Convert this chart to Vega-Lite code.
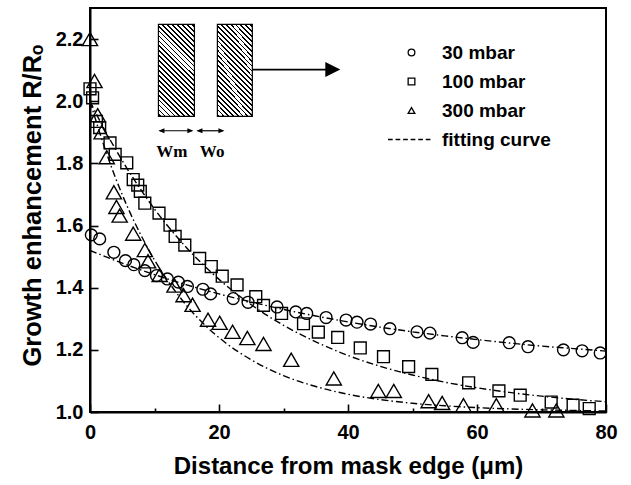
{
  "$schema": "https://vega.github.io/schema/vega-lite/v6.json",
  "width": 516,
  "height": 404,
  "autosize": {"type": "none"},
  "padding": {"left": 90, "top": 8, "right": 25, "bottom": 73},
  "background": "white",
  "config": {
    "view": {"stroke": "black", "strokeWidth": 2},
    "font": "Liberation Sans",
    "axis": {
      "labelFont": "Liberation Sans", "labelFontSize": 20, "labelFontWeight": "bold", "labelColor": "black",
      "titleFont": "Liberation Sans", "titleFontSize": 24, "titleFontWeight": "bold", "titleColor": "black",
      "tickColor": "black", "tickWidth": 1.6, "domainColor": "black", "domainWidth": 2, "grid": false
    },
    "legend": {
      "labelFont": "Liberation Sans", "labelFontSize": 19, "labelFontWeight": "bold", "labelColor": "black"
    }
  },
  "datasets": {
    "points": [
      {"series": "30 mbar", "x": 0.2, "y": 1.57},
      {"series": "30 mbar", "x": 1.5, "y": 1.557},
      {"series": "30 mbar", "x": 3.7, "y": 1.514},
      {"series": "30 mbar", "x": 5.5, "y": 1.487},
      {"series": "30 mbar", "x": 6.8, "y": 1.474},
      {"series": "30 mbar", "x": 8.5, "y": 1.455},
      {"series": "30 mbar", "x": 10.3, "y": 1.439},
      {"series": "30 mbar", "x": 12.0, "y": 1.428},
      {"series": "30 mbar", "x": 13.7, "y": 1.418},
      {"series": "30 mbar", "x": 15.1, "y": 1.404},
      {"series": "30 mbar", "x": 17.5, "y": 1.395},
      {"series": "30 mbar", "x": 18.7, "y": 1.38},
      {"series": "30 mbar", "x": 22.2, "y": 1.365},
      {"series": "30 mbar", "x": 24.5, "y": 1.353},
      {"series": "30 mbar", "x": 29.0, "y": 1.338},
      {"series": "30 mbar", "x": 31.9, "y": 1.322},
      {"series": "30 mbar", "x": 33.6, "y": 1.317},
      {"series": "30 mbar", "x": 36.6, "y": 1.304},
      {"series": "30 mbar", "x": 39.7, "y": 1.296},
      {"series": "30 mbar", "x": 41.4, "y": 1.289},
      {"series": "30 mbar", "x": 43.5, "y": 1.283},
      {"series": "30 mbar", "x": 46.5, "y": 1.268},
      {"series": "30 mbar", "x": 50.7, "y": 1.258},
      {"series": "30 mbar", "x": 52.7, "y": 1.254},
      {"series": "30 mbar", "x": 57.7, "y": 1.239},
      {"series": "30 mbar", "x": 59.4, "y": 1.224},
      {"series": "30 mbar", "x": 65.0, "y": 1.223},
      {"series": "30 mbar", "x": 67.9, "y": 1.21},
      {"series": "30 mbar", "x": 73.4, "y": 1.2},
      {"series": "30 mbar", "x": 76.3, "y": 1.197},
      {"series": "30 mbar", "x": 79.1, "y": 1.19},
      {"series": "100 mbar", "x": 0.0, "y": 2.04},
      {"series": "100 mbar", "x": 0.4, "y": 2.011},
      {"series": "100 mbar", "x": 1.0, "y": 1.935},
      {"series": "100 mbar", "x": 1.5, "y": 1.915},
      {"series": "100 mbar", "x": 3.1, "y": 1.866},
      {"series": "100 mbar", "x": 3.9, "y": 1.829},
      {"series": "100 mbar", "x": 5.7, "y": 1.802},
      {"series": "100 mbar", "x": 6.7, "y": 1.748},
      {"series": "100 mbar", "x": 7.4, "y": 1.73},
      {"series": "100 mbar", "x": 7.8, "y": 1.71},
      {"series": "100 mbar", "x": 8.5, "y": 1.672},
      {"series": "100 mbar", "x": 10.7, "y": 1.64},
      {"series": "100 mbar", "x": 12.4, "y": 1.601},
      {"series": "100 mbar", "x": 13.2, "y": 1.565},
      {"series": "100 mbar", "x": 14.7, "y": 1.537},
      {"series": "100 mbar", "x": 17.0, "y": 1.494},
      {"series": "100 mbar", "x": 18.8, "y": 1.468},
      {"series": "100 mbar", "x": 20.5, "y": 1.437},
      {"series": "100 mbar", "x": 22.8, "y": 1.409},
      {"series": "100 mbar", "x": 25.7, "y": 1.371},
      {"series": "100 mbar", "x": 26.9, "y": 1.343},
      {"series": "100 mbar", "x": 29.7, "y": 1.317},
      {"series": "100 mbar", "x": 33.1, "y": 1.284},
      {"series": "100 mbar", "x": 35.4, "y": 1.257},
      {"series": "100 mbar", "x": 38.4, "y": 1.24},
      {"series": "100 mbar", "x": 41.9, "y": 1.206},
      {"series": "100 mbar", "x": 45.5, "y": 1.178},
      {"series": "100 mbar", "x": 49.4, "y": 1.146},
      {"series": "100 mbar", "x": 53.0, "y": 1.121},
      {"series": "100 mbar", "x": 58.7, "y": 1.094},
      {"series": "100 mbar", "x": 63.4, "y": 1.068},
      {"series": "100 mbar", "x": 66.7, "y": 1.054},
      {"series": "100 mbar", "x": 71.5, "y": 1.032},
      {"series": "100 mbar", "x": 74.9, "y": 1.022},
      {"series": "100 mbar", "x": 77.4, "y": 1.011},
      {"series": "300 mbar", "x": 0.0, "y": 2.2},
      {"series": "300 mbar", "x": 0.7, "y": 2.065},
      {"series": "300 mbar", "x": 1.2, "y": 1.955},
      {"series": "300 mbar", "x": 1.8, "y": 1.9},
      {"series": "300 mbar", "x": 2.6, "y": 1.82},
      {"series": "300 mbar", "x": 3.7, "y": 1.707},
      {"series": "300 mbar", "x": 4.1, "y": 1.66},
      {"series": "300 mbar", "x": 4.6, "y": 1.632},
      {"series": "300 mbar", "x": 6.7, "y": 1.574},
      {"series": "300 mbar", "x": 8.5, "y": 1.521},
      {"series": "300 mbar", "x": 9.0, "y": 1.485},
      {"series": "300 mbar", "x": 10.8, "y": 1.441},
      {"series": "300 mbar", "x": 13.1, "y": 1.407},
      {"series": "300 mbar", "x": 14.5, "y": 1.376},
      {"series": "300 mbar", "x": 15.9, "y": 1.345},
      {"series": "300 mbar", "x": 18.3, "y": 1.297},
      {"series": "300 mbar", "x": 20.1, "y": 1.287},
      {"series": "300 mbar", "x": 22.1, "y": 1.258},
      {"series": "300 mbar", "x": 24.4, "y": 1.238},
      {"series": "300 mbar", "x": 26.9, "y": 1.219},
      {"series": "300 mbar", "x": 31.2, "y": 1.168},
      {"series": "300 mbar", "x": 37.8, "y": 1.108},
      {"series": "300 mbar", "x": 44.7, "y": 1.068},
      {"series": "300 mbar", "x": 47.1, "y": 1.068},
      {"series": "300 mbar", "x": 52.5, "y": 1.035},
      {"series": "300 mbar", "x": 54.6, "y": 1.029},
      {"series": "300 mbar", "x": 57.9, "y": 1.022},
      {"series": "300 mbar", "x": 63.0, "y": 1.022},
      {"series": "300 mbar", "x": 68.6, "y": 1.005},
      {"series": "300 mbar", "x": 72.3, "y": 1.005}
    ],
    "curves": [
      {"curve": "30 mbar", "x": 0, "y": 1.52},
      {"curve": "30 mbar", "x": 5, "y": 1.479},
      {"curve": "30 mbar", "x": 10, "y": 1.442},
      {"curve": "30 mbar", "x": 15, "y": 1.409},
      {"curve": "30 mbar", "x": 20, "y": 1.38},
      {"curve": "30 mbar", "x": 25, "y": 1.354},
      {"curve": "30 mbar", "x": 30, "y": 1.33},
      {"curve": "30 mbar", "x": 35, "y": 1.309},
      {"curve": "30 mbar", "x": 40, "y": 1.29},
      {"curve": "30 mbar", "x": 45, "y": 1.273},
      {"curve": "30 mbar", "x": 50, "y": 1.258},
      {"curve": "30 mbar", "x": 55, "y": 1.245},
      {"curve": "30 mbar", "x": 60, "y": 1.233},
      {"curve": "30 mbar", "x": 65, "y": 1.222},
      {"curve": "30 mbar", "x": 70, "y": 1.212},
      {"curve": "30 mbar", "x": 75, "y": 1.204},
      {"curve": "30 mbar", "x": 80, "y": 1.196},
      {"curve": "100 mbar", "x": 0, "y": 2.0},
      {"curve": "100 mbar", "x": 2, "y": 1.918},
      {"curve": "100 mbar", "x": 4, "y": 1.844},
      {"curve": "100 mbar", "x": 6, "y": 1.775},
      {"curve": "100 mbar", "x": 8, "y": 1.712},
      {"curve": "100 mbar", "x": 10, "y": 1.653},
      {"curve": "100 mbar", "x": 12, "y": 1.6},
      {"curve": "100 mbar", "x": 15, "y": 1.528},
      {"curve": "100 mbar", "x": 18, "y": 1.465},
      {"curve": "100 mbar", "x": 21, "y": 1.409},
      {"curve": "100 mbar", "x": 25, "y": 1.345},
      {"curve": "100 mbar", "x": 30, "y": 1.279},
      {"curve": "100 mbar", "x": 35, "y": 1.226},
      {"curve": "100 mbar", "x": 40, "y": 1.182},
      {"curve": "100 mbar", "x": 45, "y": 1.147},
      {"curve": "100 mbar", "x": 50, "y": 1.119},
      {"curve": "100 mbar", "x": 55, "y": 1.096},
      {"curve": "100 mbar", "x": 60, "y": 1.078},
      {"curve": "100 mbar", "x": 65, "y": 1.063},
      {"curve": "100 mbar", "x": 70, "y": 1.051},
      {"curve": "100 mbar", "x": 75, "y": 1.041},
      {"curve": "100 mbar", "x": 80, "y": 1.033},
      {"curve": "300 mbar", "x": 0, "y": 2.0},
      {"curve": "300 mbar", "x": 2, "y": 1.867},
      {"curve": "300 mbar", "x": 4, "y": 1.751},
      {"curve": "300 mbar", "x": 6, "y": 1.651},
      {"curve": "300 mbar", "x": 8, "y": 1.565},
      {"curve": "300 mbar", "x": 10, "y": 1.489},
      {"curve": "300 mbar", "x": 12, "y": 1.424},
      {"curve": "300 mbar", "x": 15, "y": 1.342},
      {"curve": "300 mbar", "x": 18, "y": 1.276},
      {"curve": "300 mbar", "x": 21, "y": 1.223},
      {"curve": "300 mbar", "x": 25, "y": 1.168},
      {"curve": "300 mbar", "x": 30, "y": 1.117},
      {"curve": "300 mbar", "x": 35, "y": 1.082},
      {"curve": "300 mbar", "x": 40, "y": 1.057},
      {"curve": "300 mbar", "x": 45, "y": 1.04},
      {"curve": "300 mbar", "x": 50, "y": 1.028},
      {"curve": "300 mbar", "x": 55, "y": 1.02},
      {"curve": "300 mbar", "x": 60, "y": 1.014},
      {"curve": "300 mbar", "x": 65, "y": 1.01},
      {"curve": "300 mbar", "x": 70, "y": 1.007},
      {"curve": "300 mbar", "x": 75, "y": 1.005},
      {"curve": "300 mbar", "x": 80, "y": 1.003}
    ]
  },
  "layer": [
    {
      "data": {"name": "curves"},
      "mark": {"type": "line", "color": "black", "strokeWidth": 1.4, "strokeDash": [7, 3, 1.5, 3], "interpolate": "monotone", "clip": true},
      "encoding": {
        "x": {"field": "x", "type": "quantitative",
          "scale": {"domain": [0, 80], "nice": false, "zero": false},
          "axis": {"title": "Distance from mask edge (μm)", "values": [0, 10, 20, 30, 40, 50, 60, 70, 80],
            "labelExpr": "datum.value % 20 === 0 ? datum.label : ''",
            "tickSize": {"condition": {"test": "datum.value % 20 === 0", "value": -8}, "value": -4},
            "labelPadding": 18, "titlePadding": 12, "labelFlush": false}},
        "y": {"field": "y", "type": "quantitative",
          "scale": {"domain": [1.0, 2.3], "nice": false, "zero": false},
          "axis": {"title": "Growth enhancement  R/Rₒ", "values": [1.0, 1.1, 1.2, 1.3, 1.4, 1.5, 1.6, 1.7, 1.8, 1.9, 2.0, 2.1, 2.2],
            "labelExpr": "round(datum.value * 10) % 2 === 0 ? format(datum.value, '.1f') : ''",
            "tickSize": {"condition": {"test": "round(datum.value * 10) % 2 === 0", "value": -8}, "value": -4},
            "labelPadding": 15, "titlePadding": 10, "titleFontSize": 25.5, "titleY": 197, "labelFlush": false}},
        "detail": {"field": "curve"}
      }
    },
    {
      "data": {"name": "points"},
      "transform": [{"filter": "datum.series !== '300 mbar'"}],
      "mark": {"type": "point", "filled": false, "stroke": "black", "strokeWidth": 1.4, "opacity": 1, "size": 140},
      "encoding": {
        "x": {"field": "x", "type": "quantitative"},
        "y": {"field": "y", "type": "quantitative"},
        "shape": {"field": "series", "type": "nominal",
          "scale": {"domain": ["30 mbar", "100 mbar", "300 mbar", "fitting curve"],
            "range": ["circle", "square", "triangle-up", "M-7,0H-5.6M-4.75,0H-3.35M-2.5,0H-1.1M-0.25,0H1.15M2,0H3.4M4.25,0H5.65"]},
          "legend": {"title": null, "orient": "none", "legendX": 312, "legendY": 35, "padding": 0,
            "symbolSize": 45, "symbolStrokeColor": "black", "symbolFillColor": "transparent", "symbolStrokeWidth": 1.3,
            "rowPadding": 9, "labelOffset": 21}}
      }
    },
    {
      "data": {"name": "points"},
      "transform": [{"filter": "datum.series === '300 mbar'"}],
      "mark": {"type": "point", "filled": false, "stroke": "black", "strokeWidth": 1.4, "opacity": 1, "size": 230},
      "encoding": {
        "x": {"field": "x", "type": "quantitative"},
        "y": {"field": "y", "type": "quantitative"},
        "shape": {"field": "series", "type": "nominal"}
      }
    },
    {
      "data": {"values": [{}]},
      "mark": {"type": "rect", "stroke": "black", "strokeWidth": 1.2,
        "fill": {"gradient": "linear", "x1": 0, "y1": 1, "x2": 0.4715, "y2": -0.207, "stops": [
          {"offset": 0, "color": "white"},
          {"offset": 0.010, "color": "white"}, {"offset": 0.010, "color": "black"}, {"offset": 0.024, "color": "black"}, {"offset": 0.024, "color": "white"},
          {"offset": 0.0485, "color": "white"}, {"offset": 0.0485, "color": "black"}, {"offset": 0.0625, "color": "black"}, {"offset": 0.0625, "color": "white"},
          {"offset": 0.087, "color": "white"}, {"offset": 0.087, "color": "black"}, {"offset": 0.101, "color": "black"}, {"offset": 0.101, "color": "white"},
          {"offset": 0.1255, "color": "white"}, {"offset": 0.1255, "color": "black"}, {"offset": 0.1395, "color": "black"}, {"offset": 0.1395, "color": "white"},
          {"offset": 0.164, "color": "white"}, {"offset": 0.164, "color": "black"}, {"offset": 0.178, "color": "black"}, {"offset": 0.178, "color": "white"},
          {"offset": 0.2025, "color": "white"}, {"offset": 0.2025, "color": "black"}, {"offset": 0.2165, "color": "black"}, {"offset": 0.2165, "color": "white"},
          {"offset": 0.241, "color": "white"}, {"offset": 0.241, "color": "black"}, {"offset": 0.255, "color": "black"}, {"offset": 0.255, "color": "white"},
          {"offset": 0.2795, "color": "white"}, {"offset": 0.2795, "color": "black"}, {"offset": 0.2935, "color": "black"}, {"offset": 0.2935, "color": "white"},
          {"offset": 0.318, "color": "white"}, {"offset": 0.318, "color": "black"}, {"offset": 0.332, "color": "black"}, {"offset": 0.332, "color": "white"},
          {"offset": 0.3565, "color": "white"}, {"offset": 0.3565, "color": "black"}, {"offset": 0.3705, "color": "black"}, {"offset": 0.3705, "color": "white"},
          {"offset": 0.395, "color": "white"}, {"offset": 0.395, "color": "black"}, {"offset": 0.409, "color": "black"}, {"offset": 0.409, "color": "white"},
          {"offset": 0.4335, "color": "white"}, {"offset": 0.4335, "color": "black"}, {"offset": 0.4475, "color": "black"}, {"offset": 0.4475, "color": "white"},
          {"offset": 0.472, "color": "white"}, {"offset": 0.472, "color": "black"}, {"offset": 0.486, "color": "black"}, {"offset": 0.486, "color": "white"},
          {"offset": 0.5105, "color": "white"}, {"offset": 0.5105, "color": "black"}, {"offset": 0.5245, "color": "black"}, {"offset": 0.5245, "color": "white"},
          {"offset": 0.549, "color": "white"}, {"offset": 0.549, "color": "black"}, {"offset": 0.563, "color": "black"}, {"offset": 0.563, "color": "white"},
          {"offset": 0.5875, "color": "white"}, {"offset": 0.5875, "color": "black"}, {"offset": 0.6015, "color": "black"}, {"offset": 0.6015, "color": "white"},
          {"offset": 0.626, "color": "white"}, {"offset": 0.626, "color": "black"}, {"offset": 0.640, "color": "black"}, {"offset": 0.640, "color": "white"},
          {"offset": 0.6645, "color": "white"}, {"offset": 0.6645, "color": "black"}, {"offset": 0.6785, "color": "black"}, {"offset": 0.6785, "color": "white"},
          {"offset": 0.703, "color": "white"}, {"offset": 0.703, "color": "black"}, {"offset": 0.717, "color": "black"}, {"offset": 0.717, "color": "white"},
          {"offset": 0.7415, "color": "white"}, {"offset": 0.7415, "color": "black"}, {"offset": 0.7555, "color": "black"}, {"offset": 0.7555, "color": "white"},
          {"offset": 0.780, "color": "white"}, {"offset": 0.780, "color": "black"}, {"offset": 0.794, "color": "black"}, {"offset": 0.794, "color": "white"},
          {"offset": 0.8185, "color": "white"}, {"offset": 0.8185, "color": "black"}, {"offset": 0.8325, "color": "black"}, {"offset": 0.8325, "color": "white"},
          {"offset": 0.857, "color": "white"}, {"offset": 0.857, "color": "black"}, {"offset": 0.871, "color": "black"}, {"offset": 0.871, "color": "white"},
          {"offset": 0.8955, "color": "white"}, {"offset": 0.8955, "color": "black"}, {"offset": 0.9095, "color": "black"}, {"offset": 0.9095, "color": "white"},
          {"offset": 0.934, "color": "white"}, {"offset": 0.934, "color": "black"}, {"offset": 0.948, "color": "black"}, {"offset": 0.948, "color": "white"},
          {"offset": 0.9725, "color": "white"}, {"offset": 0.9725, "color": "black"}, {"offset": 0.9865, "color": "black"}, {"offset": 0.9865, "color": "white"},
          {"offset": 1, "color": "white"}
        ]}},
      "encoding": {
        "x": {"datum": 10.61, "type": "quantitative"}, "x2": {"datum": 16.19},
        "y": {"datum": 2.247, "type": "quantitative"}, "y2": {"datum": 1.951}
      }
    },
    {
      "data": {"values": [{}]},
      "mark": {"type": "rect", "stroke": "black", "strokeWidth": 1.2,
        "fill": {"gradient": "linear", "x1": 0, "y1": 1, "x2": 0.4715, "y2": -0.207, "stops": [
          {"offset": 0, "color": "white"},
          {"offset": 0.010, "color": "white"}, {"offset": 0.010, "color": "black"}, {"offset": 0.024, "color": "black"}, {"offset": 0.024, "color": "white"},
          {"offset": 0.0485, "color": "white"}, {"offset": 0.0485, "color": "black"}, {"offset": 0.0625, "color": "black"}, {"offset": 0.0625, "color": "white"},
          {"offset": 0.087, "color": "white"}, {"offset": 0.087, "color": "black"}, {"offset": 0.101, "color": "black"}, {"offset": 0.101, "color": "white"},
          {"offset": 0.1255, "color": "white"}, {"offset": 0.1255, "color": "black"}, {"offset": 0.1395, "color": "black"}, {"offset": 0.1395, "color": "white"},
          {"offset": 0.164, "color": "white"}, {"offset": 0.164, "color": "black"}, {"offset": 0.178, "color": "black"}, {"offset": 0.178, "color": "white"},
          {"offset": 0.2025, "color": "white"}, {"offset": 0.2025, "color": "black"}, {"offset": 0.2165, "color": "black"}, {"offset": 0.2165, "color": "white"},
          {"offset": 0.241, "color": "white"}, {"offset": 0.241, "color": "black"}, {"offset": 0.255, "color": "black"}, {"offset": 0.255, "color": "white"},
          {"offset": 0.2795, "color": "white"}, {"offset": 0.2795, "color": "black"}, {"offset": 0.2935, "color": "black"}, {"offset": 0.2935, "color": "white"},
          {"offset": 0.318, "color": "white"}, {"offset": 0.318, "color": "black"}, {"offset": 0.332, "color": "black"}, {"offset": 0.332, "color": "white"},
          {"offset": 0.3565, "color": "white"}, {"offset": 0.3565, "color": "black"}, {"offset": 0.3705, "color": "black"}, {"offset": 0.3705, "color": "white"},
          {"offset": 0.395, "color": "white"}, {"offset": 0.395, "color": "black"}, {"offset": 0.409, "color": "black"}, {"offset": 0.409, "color": "white"},
          {"offset": 0.4335, "color": "white"}, {"offset": 0.4335, "color": "black"}, {"offset": 0.4475, "color": "black"}, {"offset": 0.4475, "color": "white"},
          {"offset": 0.472, "color": "white"}, {"offset": 0.472, "color": "black"}, {"offset": 0.486, "color": "black"}, {"offset": 0.486, "color": "white"},
          {"offset": 0.5105, "color": "white"}, {"offset": 0.5105, "color": "black"}, {"offset": 0.5245, "color": "black"}, {"offset": 0.5245, "color": "white"},
          {"offset": 0.549, "color": "white"}, {"offset": 0.549, "color": "black"}, {"offset": 0.563, "color": "black"}, {"offset": 0.563, "color": "white"},
          {"offset": 0.5875, "color": "white"}, {"offset": 0.5875, "color": "black"}, {"offset": 0.6015, "color": "black"}, {"offset": 0.6015, "color": "white"},
          {"offset": 0.626, "color": "white"}, {"offset": 0.626, "color": "black"}, {"offset": 0.640, "color": "black"}, {"offset": 0.640, "color": "white"},
          {"offset": 0.6645, "color": "white"}, {"offset": 0.6645, "color": "black"}, {"offset": 0.6785, "color": "black"}, {"offset": 0.6785, "color": "white"},
          {"offset": 0.703, "color": "white"}, {"offset": 0.703, "color": "black"}, {"offset": 0.717, "color": "black"}, {"offset": 0.717, "color": "white"},
          {"offset": 0.7415, "color": "white"}, {"offset": 0.7415, "color": "black"}, {"offset": 0.7555, "color": "black"}, {"offset": 0.7555, "color": "white"},
          {"offset": 0.780, "color": "white"}, {"offset": 0.780, "color": "black"}, {"offset": 0.794, "color": "black"}, {"offset": 0.794, "color": "white"},
          {"offset": 0.8185, "color": "white"}, {"offset": 0.8185, "color": "black"}, {"offset": 0.8325, "color": "black"}, {"offset": 0.8325, "color": "white"},
          {"offset": 0.857, "color": "white"}, {"offset": 0.857, "color": "black"}, {"offset": 0.871, "color": "black"}, {"offset": 0.871, "color": "white"},
          {"offset": 0.8955, "color": "white"}, {"offset": 0.8955, "color": "black"}, {"offset": 0.9095, "color": "black"}, {"offset": 0.9095, "color": "white"},
          {"offset": 0.934, "color": "white"}, {"offset": 0.934, "color": "black"}, {"offset": 0.948, "color": "black"}, {"offset": 0.948, "color": "white"},
          {"offset": 0.9725, "color": "white"}, {"offset": 0.9725, "color": "black"}, {"offset": 0.9865, "color": "black"}, {"offset": 0.9865, "color": "white"},
          {"offset": 1, "color": "white"}
        ]}},
      "encoding": {
        "x": {"datum": 19.75, "type": "quantitative"}, "x2": {"datum": 25.17},
        "y": {"datum": 2.247, "type": "quantitative"}, "y2": {"datum": 1.951}
      }
    },
    {
      "data": {"values": [{}]},
      "mark": {"type": "rule", "color": "black", "strokeWidth": 1.8},
      "encoding": {"x": {"datum": 25.17, "type": "quantitative"}, "x2": {"datum": 37.5}, "y": {"datum": 2.102, "type": "quantitative"}}
    },
    {
      "data": {"values": [{}]},
      "mark": {"type": "point", "shape": "M0,0L-2,-1L-2,1Z", "filled": true, "color": "black", "size": 225, "opacity": 1},
      "encoding": {"x": {"datum": 38.81, "type": "quantitative"}, "y": {"datum": 2.102, "type": "quantitative"}}
    },
    {
      "data": {"values": [{}]},
      "mark": {"type": "rule", "color": "black", "strokeWidth": 1.2},
      "encoding": {"x": {"datum": 10.8, "type": "quantitative"}, "x2": {"datum": 15.8}, "y": {"datum": 1.905, "type": "quantitative"}}
    },
    {
      "data": {"values": [{}]},
      "mark": {"type": "rule", "color": "black", "strokeWidth": 1.2},
      "encoding": {"x": {"datum": 16.7, "type": "quantitative"}, "x2": {"datum": 20.6}, "y": {"datum": 1.905, "type": "quantitative"}}
    },
    {
      "data": {"values": [{}]},
      "mark": {"type": "point", "shape": "M0,0L2,-0.8L2,0.8Z", "filled": true, "color": "black", "size": 36, "opacity": 1},
      "encoding": {"x": {"datum": 10.61, "type": "quantitative"}, "y": {"datum": 1.905, "type": "quantitative"}}
    },
    {
      "data": {"values": [{}]},
      "mark": {"type": "point", "shape": "M0,0L2,-0.8L2,0.8Z", "filled": true, "color": "black", "size": 36, "opacity": 1},
      "encoding": {"x": {"datum": 16.5, "type": "quantitative"}, "y": {"datum": 1.905, "type": "quantitative"}}
    },
    {
      "data": {"values": [{}]},
      "mark": {"type": "point", "shape": "M0,0L-2,-0.8L-2,0.8Z", "filled": true, "color": "black", "size": 36, "opacity": 1},
      "encoding": {"x": {"datum": 16.03, "type": "quantitative"}, "y": {"datum": 1.905, "type": "quantitative"}}
    },
    {
      "data": {"values": [{}]},
      "mark": {"type": "point", "shape": "M0,0L-2,-0.8L-2,0.8Z", "filled": true, "color": "black", "size": 36, "opacity": 1},
      "encoding": {"x": {"datum": 20.84, "type": "quantitative"}, "y": {"datum": 1.905, "type": "quantitative"}}
    },
    {
      "data": {"values": [{}]},
      "mark": {"type": "text", "text": "Wm", "font": "Liberation Serif", "fontWeight": "bold", "fontSize": 17, "color": "black", "align": "center", "baseline": "middle"},
      "encoding": {"x": {"datum": 12.7, "type": "quantitative"}, "y": {"datum": 1.838, "type": "quantitative"}}
    },
    {
      "data": {"values": [{}]},
      "mark": {"type": "text", "text": "Wo", "font": "Liberation Serif", "fontWeight": "bold", "fontSize": 17, "color": "black", "align": "center", "baseline": "middle"},
      "encoding": {"x": {"datum": 18.93, "type": "quantitative"}, "y": {"datum": 1.838, "type": "quantitative"}}
    }
  ]
}
